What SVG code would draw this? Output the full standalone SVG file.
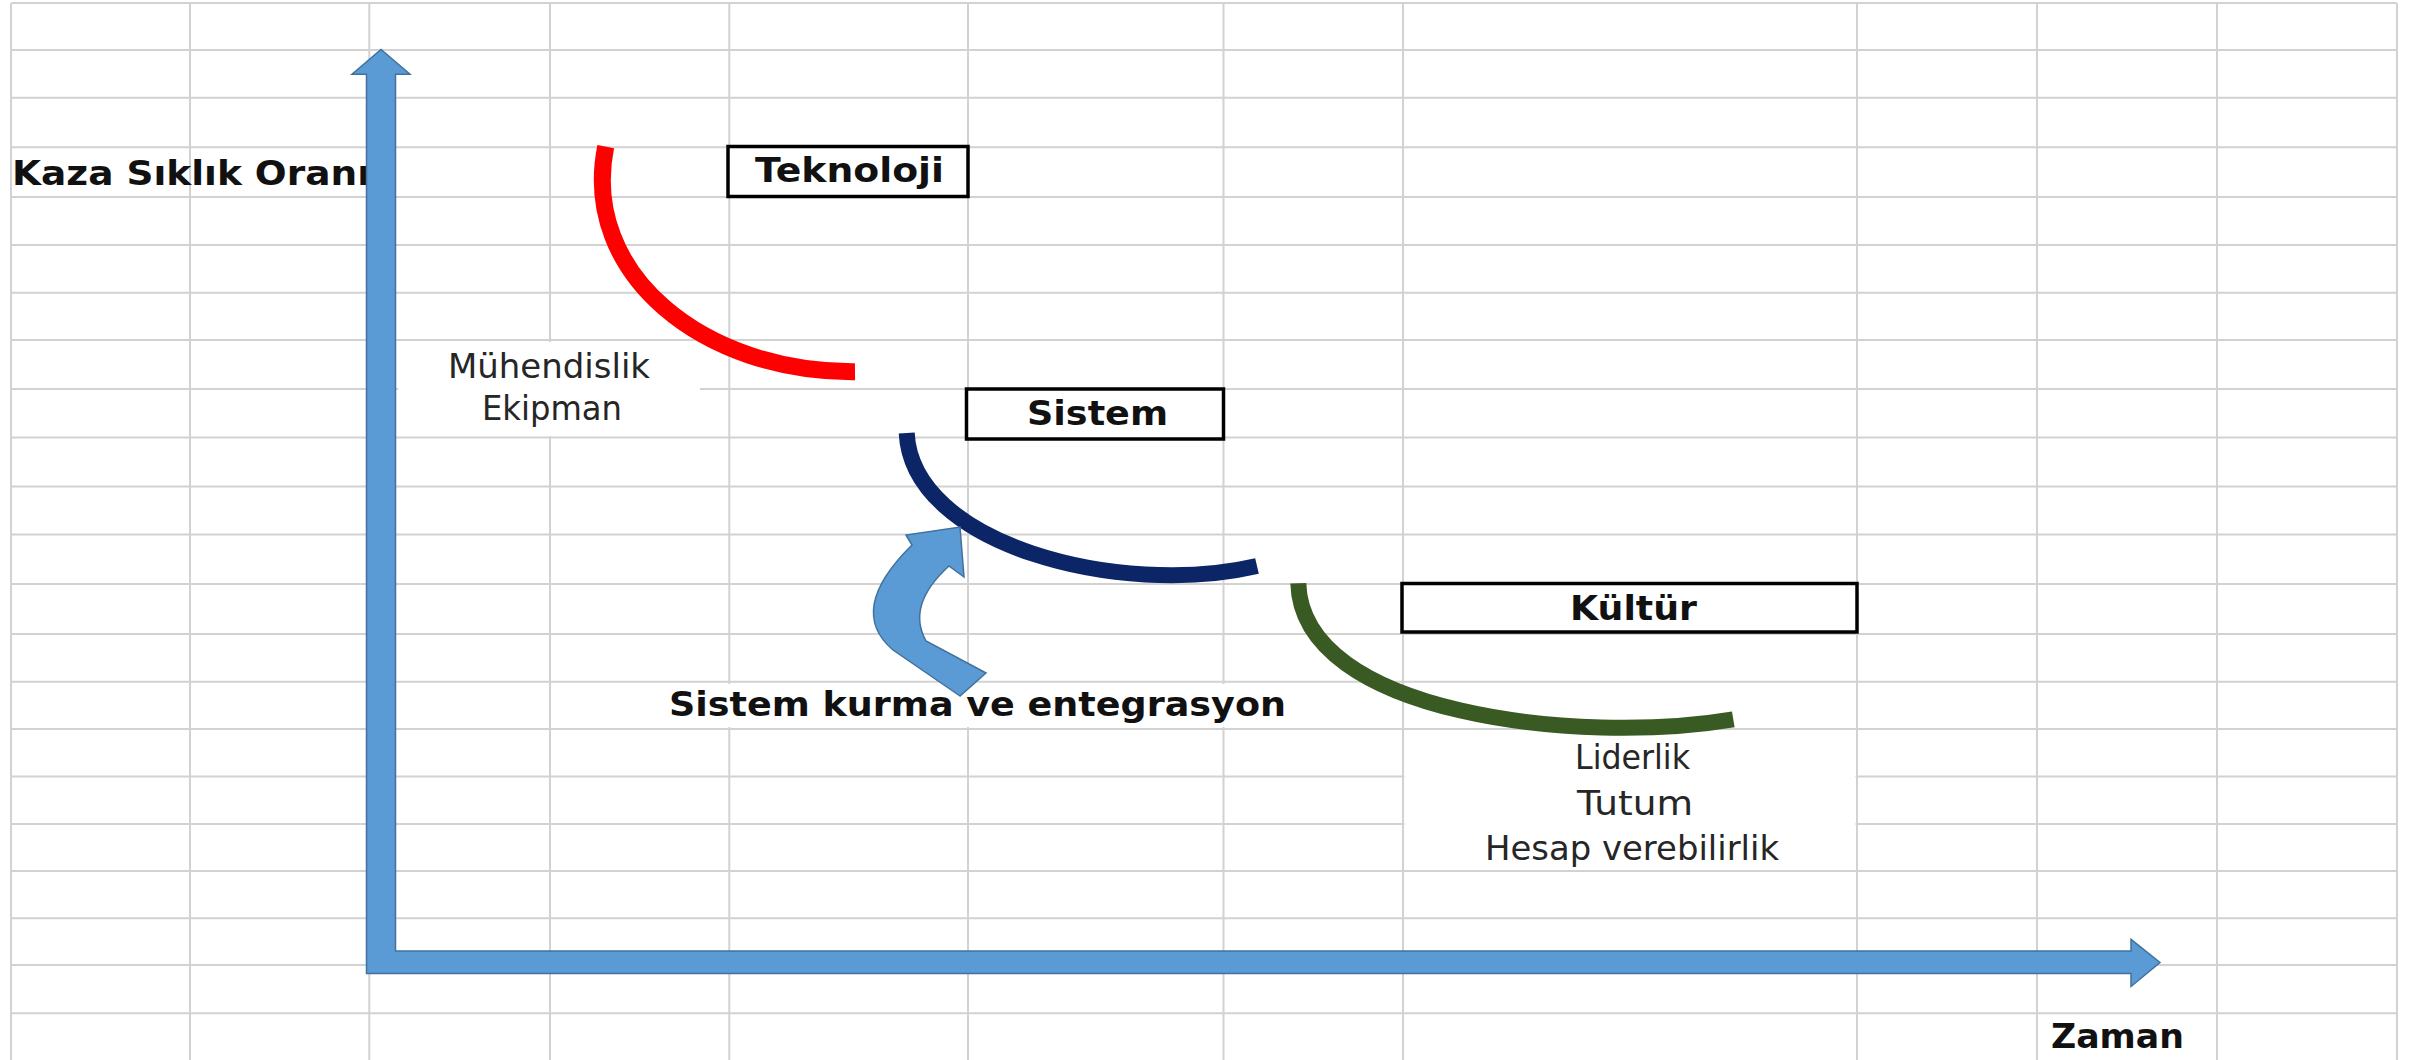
<svg xmlns="http://www.w3.org/2000/svg" width="2427" height="1060" viewBox="0 0 2427 1060">
  <style>
    .grid line { stroke: #D2D2D2; stroke-width: 2; }
    .box { fill: #FFFFFF; stroke: #000000; stroke-width: 3.5; }
    .bold { font-family: "DejaVu Sans", "Liberation Sans", sans-serif; font-weight: bold; font-size: 33px; fill: #111111; }
    .reg { font-family: "DejaVu Sans", "Liberation Sans", sans-serif; font-size: 33px; fill: #262626; }
    .arc { fill: none; stroke-linecap: butt; }
    .blue { fill: #5B9BD5; stroke: #41719C; stroke-width: 1.5; stroke-linejoin: miter; }
  </style>
  <rect x="0" y="0" width="2427" height="1060" fill="#FFFFFF"/>
  <g id="grid" class="grid">
    <line x1="11" y1="3" x2="2397" y2="3"/>
    <line x1="11" y1="50" x2="2397" y2="50"/>
    <line x1="11" y1="97.7" x2="2397" y2="97.7"/>
    <line x1="11" y1="147.3" x2="2397" y2="147.3"/>
    <line x1="11" y1="197" x2="2397" y2="197"/>
    <line x1="11" y1="245" x2="2397" y2="245"/>
    <line x1="11" y1="292.7" x2="2397" y2="292.7"/>
    <line x1="11" y1="340" x2="2397" y2="340"/>
    <line x1="11" y1="389" x2="2397" y2="389"/>
    <line x1="11" y1="437.5" x2="2397" y2="437.5"/>
    <line x1="11" y1="486.5" x2="2397" y2="486.5"/>
    <line x1="11" y1="534.5" x2="2397" y2="534.5"/>
    <line x1="11" y1="584" x2="2397" y2="584"/>
    <line x1="11" y1="634" x2="2397" y2="634"/>
    <line x1="11" y1="681.7" x2="2397" y2="681.7"/>
    <line x1="11" y1="729" x2="2397" y2="729"/>
    <line x1="11" y1="776.5" x2="2397" y2="776.5"/>
    <line x1="11" y1="824" x2="2397" y2="824"/>
    <line x1="11" y1="871" x2="2397" y2="871"/>
    <line x1="11" y1="918.3" x2="2397" y2="918.3"/>
    <line x1="11" y1="965" x2="2397" y2="965"/>
    <line x1="11" y1="1013.3" x2="2397" y2="1013.3"/>
    <line x1="11" y1="3" x2="11" y2="1060"/>
    <line x1="190" y1="3" x2="190" y2="1060"/>
    <line x1="369.3" y1="3" x2="369.3" y2="1060"/>
    <line x1="550" y1="3" x2="550" y2="1060"/>
    <line x1="729.3" y1="3" x2="729.3" y2="1060"/>
    <line x1="968" y1="3" x2="968" y2="1060"/>
    <line x1="1223.5" y1="3" x2="1223.5" y2="1060"/>
    <line x1="1403" y1="3" x2="1403" y2="1060"/>
    <line x1="1857" y1="3" x2="1857" y2="1060"/>
    <line x1="2037" y1="3" x2="2037" y2="1060"/>
    <line x1="2217" y1="3" x2="2217" y2="1060"/>
    <line x1="2397" y1="3" x2="2397" y2="1060"/>
  </g>

  <g id="label-kaza">
    <text class="bold" x="12" y="185" textLength="358" lengthAdjust="spacingAndGlyphs">Kaza Sıklık Oranı</text>
  </g>

  <g id="node-teknoloji">
    <rect class="box" x="728" y="146.5" width="240" height="50"/>
    <text class="bold" x="755" y="182" textLength="189" lengthAdjust="spacingAndGlyphs">Teknoloji</text>
  </g>

  <g id="node-muhendislik">
    <rect x="398" y="342" width="302" height="94" fill="#FFFFFF"/>
    <text class="reg" x="448" y="378" textLength="202" lengthAdjust="spacingAndGlyphs">Mühendislik</text>
    <text class="reg" x="482" y="420" textLength="140" lengthAdjust="spacingAndGlyphs">Ekipman</text>
  </g>

  <g id="node-sistem">
    <rect class="box" x="966.5" y="389" width="257" height="50"/>
    <text class="bold" x="1027" y="425" textLength="141" lengthAdjust="spacingAndGlyphs">Sistem</text>
  </g>

  <g id="node-kultur">
    <rect class="box" x="1402" y="583.5" width="455" height="48.5"/>
    <text class="bold" x="1570" y="620" textLength="127" lengthAdjust="spacingAndGlyphs">Kültür</text>
  </g>

  <g id="node-sistem-kurma">
    <rect x="662" y="684" width="632" height="43" fill="#FFFFFF"/>
    <text class="bold" x="669" y="716" textLength="617" lengthAdjust="spacingAndGlyphs">Sistem kurma ve entegrasyon</text>
  </g>

  <g id="node-liderlik">
    <rect x="1404.5" y="731" width="451" height="138" fill="#FFFFFF"/>
    <text class="reg" x="1575" y="769" textLength="115" lengthAdjust="spacingAndGlyphs">Liderlik</text>
    <text class="reg" x="1577" y="815" textLength="116" lengthAdjust="spacingAndGlyphs">Tutum</text>
    <text class="reg" x="1485" y="860" textLength="294" lengthAdjust="spacingAndGlyphs">Hesap verebilirlik</text>
  </g>

  <g id="label-zaman">
    <text class="bold" x="2051" y="1048" textLength="133" lengthAdjust="spacingAndGlyphs">Zaman</text>
  </g>

  <g id="connectors">
    <path class="arc" d="M 605.7,146.7 C 580,275 705,373 855,371.7" stroke="#FF0000" stroke-width="17"/>
    <path class="arc" d="M 906.7,433 C 912,545 1120,598 1257,566" stroke="#0B2566" stroke-width="16"/>
    <path class="arc" d="M 1298.3,583.3 C 1302,715 1580,745 1733.3,719.3" stroke="#3A5A24" stroke-width="16"/>
    <path id="curved-arrow" class="blue" d="M 960,696 L 893,650 Q 846,610 912,545 L 906,535 L 960,527 L 964,577 L 949,566 Q 906,605 926,641 L 986,673 Z"/>
  </g>

  <g id="axes">
    <path class="blue" d="M 366.5,973.5 L 366.5,74.3 L 352,74.3 L 381,49.5 L 410,74.3 L 395.5,74.3 L 395.5,951 L 2131,951 L 2131,939.3 L 2160,962.5 L 2131,986.5 L 2131,973.5 Z"/>
  </g>
</svg>
